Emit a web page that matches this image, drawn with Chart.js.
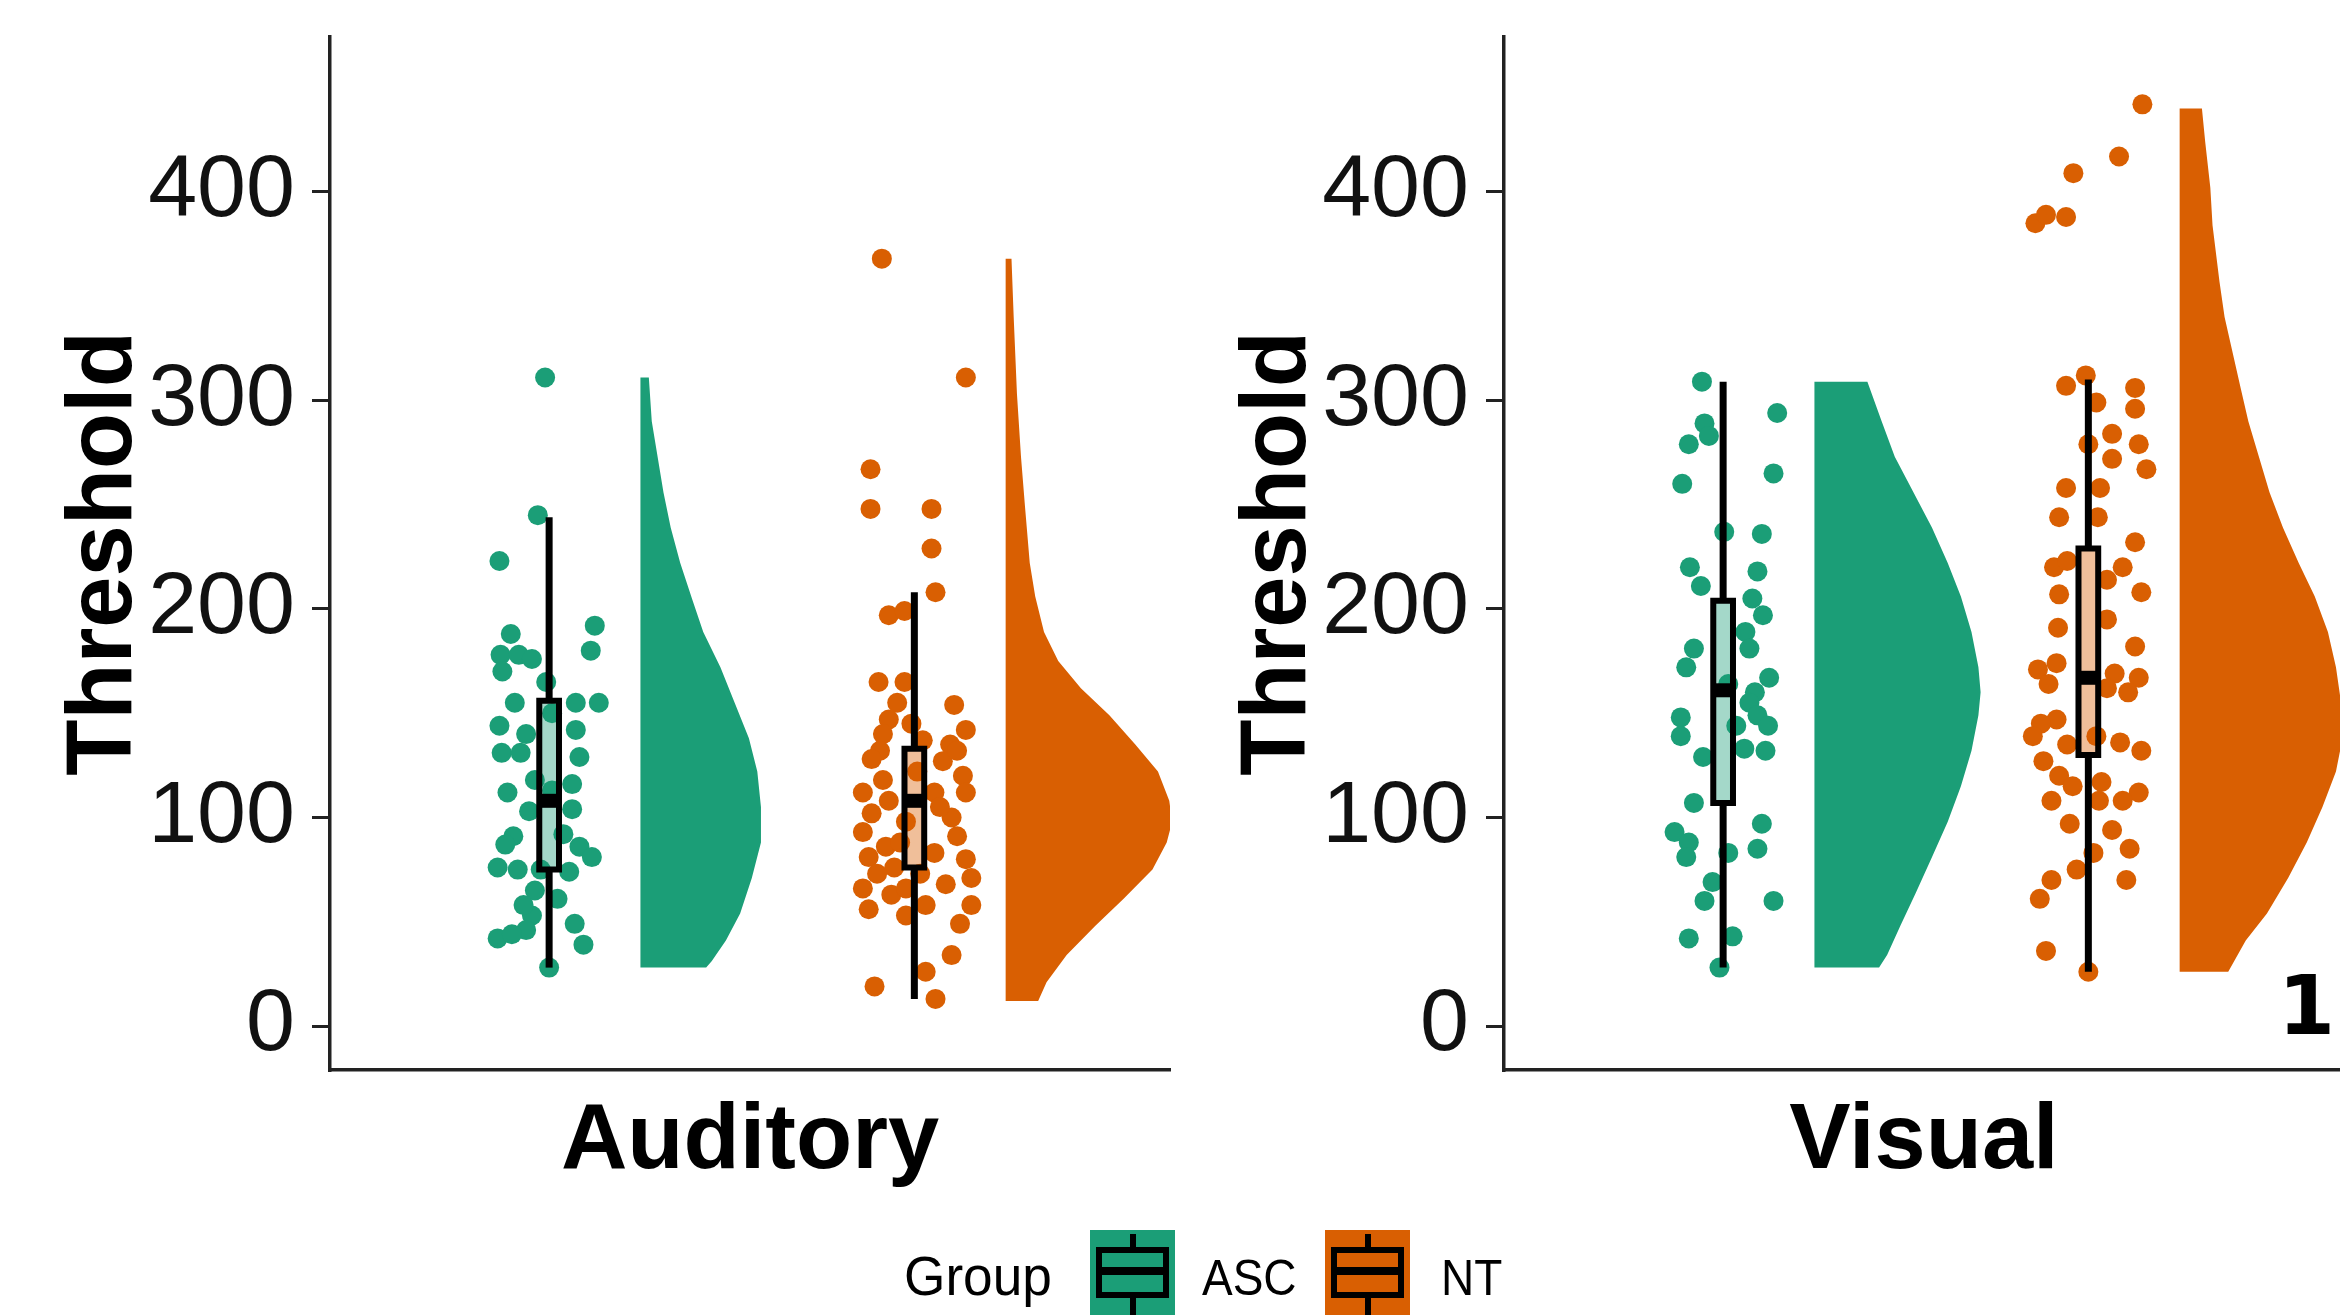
<!DOCTYPE html>
<html>
<head>
<meta charset="utf-8">
<title>Threshold by group</title>
<script src="https://cdn.jsdelivr.net/npm/chart.js@4.4.1/dist/chart.umd.min.js"></script>
<style>
  html, body { margin: 0; padding: 0; background: #fff; overflow: hidden; }
  body { width: 2340px; height: 1315px; position: relative; font-family: "Liberation Sans", Arial, sans-serif; }
  .panel { position: absolute; top: 0; }
  #audCanvas { left: 0; }
  #visCanvas { left: 1174px; }
  .txt { position: absolute; line-height: 1; color: #000; white-space: nowrap; transform-origin: 0 0; }
  .key { position: absolute; top: 1230px; width: 85px; height: 100px; }
  .key .whisk { position: absolute; left: 40px; width: 6px; top: 4px; bottom: 0; background: #000; }
  .key .box { position: absolute; left: 6px; top: 17px; width: 73px; height: 51px; box-sizing: border-box; border: 6px solid #000; background: inherit; }
  .key .med { position: absolute; left: 6px; top: 37px; width: 73px; height: 8px; background: #000; }
</style>
</head>
<body>
<canvas id="audCanvas" class="panel" width="1180" height="1315"></canvas>
<canvas id="visCanvas" class="panel" width="1180" height="1315"></canvas>

<div class="txt" style="left:2278px; top:958px; font: bold 82px 'DejaVu Sans';">1</div>

<div class="txt" style="left:904px; top:1248px; font-size:56px; transform:scaleX(0.95);">Group</div>
<div class="key" style="left:1090px; background:#1b9e77;"><div class="whisk"></div><div class="box"></div><div class="med"></div></div>
<div class="txt" style="left:1202px; top:1253px; font-size:50px; transform:scaleX(0.92);">ASC</div>
<div class="key" style="left:1325px; background:#d95f02;"><div class="whisk"></div><div class="box"></div><div class="med"></div></div>
<div class="txt" style="left:1441px; top:1253px; font-size:50px; transform:scaleX(0.92);">NT</div>

<script>
// Axis setup
const yTicks = [0, 100, 200, 300, 400];
const groupNames = ['ASC', 'NT'];
const groupX = [1, 2];
const lineColors = ['#1b9e77', '#d95f02'];
const boxFills = ['rgba(27,158,119,0.4)', 'rgba(217,95,2,0.4)'];
const violinNudge = 0.25;

// Auditory - ASC
const audAscVals = [311, 245, 223, 192, 188, 180, 178, 178, 176, 170, 165, 155, 155, 155, 144, 142, 140, 131, 131, 129,
  118, 116, 112, 113, 103, 104, 91, 87, 86, 81, 76, 75, 74, 65, 61, 53, 49, 46, 42, 44, 39, 28, 150, 75, 92, 58];
const audAscJitter = [-0.011, -0.031, -0.136, 0.125, -0.105, 0.114, -0.133, -0.083, -0.047, -0.128, -0.008, -0.094, 0.073, 0.136,
  -0.136, 0.073, -0.063, -0.130, -0.078, 0.083, -0.039, 0.063, -0.114, 0.008, -0.055, 0.063, -0.098, -0.120, 0.083, 0.117,
  -0.141, -0.086, 0.055, -0.039, 0.023, -0.047, 0.070, -0.063, -0.141, -0.102, 0.094, 0.0, 0.008, -0.023, 0.039, -0.070];
const audAscBox = [28, 75, 108, 156, 244]; // lower whisker, q1, median, q3, upper whisker
const audAscViolinY = [311, 290, 273, 256, 239, 222, 205, 189, 172, 155, 138, 122, 105, 88, 71, 54, 41, 31, 28];
const audAscViolinW = [0.023, 0.031, 0.047, 0.063, 0.083, 0.109, 0.141, 0.172, 0.219, 0.258, 0.297, 0.320, 0.330, 0.330,
  0.305, 0.273, 0.234, 0.195, 0.180];

// Auditory - NT
const audNtVals = [368, 311, 267, 248, 248, 229, 208, 197, 199, 165, 165, 155, 154, 147, 140, 142, 137, 135, 132, 127,
  118, 120, 112, 108, 112, 112, 102, 100, 98, 93, 91, 86, 81, 83, 80, 76, 71, 66, 68, 63, 66, 56, 58, 53, 58, 49, 34, 26,
  19, 13, 122, 105, 88, 73, 73, 132, 128, 145];
const audNtJitter = [-0.089, 0.141, -0.120, -0.120, 0.047, 0.047, 0.058, -0.070, -0.027, -0.098, -0.027, -0.047, 0.109,
  -0.070, -0.086, 0.141, 0.023, 0.098, -0.094, 0.078, -0.086, 0.133, -0.141, -0.070, 0.055, 0.141, -0.117, 0.102, -0.023,
  -0.141, 0.117, -0.078, -0.125, 0.055, 0.141, -0.055, 0.156, -0.141, 0.086, -0.063, -0.023, -0.125, 0.031, -0.023, 0.156,
  0.125, 0.102, 0.031, -0.109, 0.058, 0.008, 0.070, -0.039, 0.016, -0.102, 0.117, -0.117, -0.008];
const audNtBox = [13, 76, 108, 133, 208];
const audNtViolinY = [368, 340, 303, 273, 249, 222, 206, 189, 175, 162, 149, 135, 122, 108, 98, 88, 75, 61, 48, 34, 21, 12];
const audNtViolinW = [0.016, 0.022, 0.031, 0.042, 0.053, 0.066, 0.081, 0.105, 0.144, 0.206, 0.284, 0.355, 0.417, 0.448,
  0.456, 0.441, 0.402, 0.323, 0.245, 0.167, 0.112, 0.089];

// Visual - ASC
const visAscVals = [309, 294, 289, 283, 279, 265, 260, 237, 236, 220, 218, 211, 205, 197, 189, 181, 181, 172, 167, 160,
  164, 155, 148, 149, 139, 144, 144, 133, 132, 129, 107, 97, 93, 88, 85, 83, 81, 69, 60, 60, 42, 43, 28];
const visAscJitter = [-0.058, 0.148, -0.051, -0.039, -0.094, 0.138, -0.112, 0.003, 0.106, -0.091, 0.094, -0.061, 0.080,
  0.109, 0.061, -0.080, 0.072, -0.101, 0.126, 0.087, 0.014, 0.072, -0.116, 0.094, -0.116, 0.123, 0.036, 0.058, 0.116,
  -0.055, -0.080, 0.106, -0.133, -0.094, 0.094, 0.014, -0.101, -0.029, -0.051, 0.138, -0.094, 0.026, -0.010];
const visAscBox = [28, 107, 161, 204, 309];
const visAscViolinY = [309, 290, 273, 256, 239, 222, 206, 189, 172, 160, 149, 132, 115, 98, 81, 64, 48, 34, 28];
const visAscViolinW = [0.145, 0.184, 0.220, 0.271, 0.322, 0.365, 0.401, 0.430, 0.449, 0.455, 0.449, 0.430, 0.401, 0.365,
  0.322, 0.278, 0.235, 0.199, 0.177];

// Visual - NT
const visNtVals = [442, 417, 409, 385, 389, 388, 312, 307, 306, 299, 296, 284, 279, 279, 272, 267, 258, 258, 244, 244,
  232, 220, 220, 223, 214, 208, 207, 195, 191, 182, 171, 174, 169, 167, 164, 162, 160, 147, 145, 139, 139, 135, 136, 132,
  127, 120, 115, 117, 112, 108, 108, 108, 97, 94, 85, 83, 75, 70, 70, 61, 36, 26];
const visNtJitter = [0.148, 0.084, -0.041, -0.145, -0.116, -0.061, -0.007, -0.061, 0.128, 0.022, 0.128, 0.065, 0.0, 0.138,
  0.065, 0.159, -0.061, 0.032, -0.080, 0.026, 0.128, 0.094, -0.094, -0.058, 0.051, 0.145, -0.080, 0.051, -0.083, 0.128,
  -0.138, -0.087, 0.072, 0.138, -0.109, 0.051, 0.109, -0.087, -0.130, -0.152, 0.022, -0.058, 0.087, 0.145, -0.123, -0.080,
  -0.043, 0.036, 0.138, 0.094, -0.101, 0.029, -0.051, 0.065, 0.113, 0.014, -0.032, -0.101, 0.104, -0.133, -0.116, 0.0];
const visNtBox = [26, 130, 167, 229, 310];
const visNtViolinY = [440, 424, 402, 384, 357, 340, 323, 306, 290, 273, 256, 239, 222, 206, 189, 172, 155, 138, 122, 105,
  88, 71, 54, 41, 26];
const visNtViolinW = [0.061, 0.070, 0.084, 0.090, 0.109, 0.123, 0.145, 0.167, 0.188, 0.217, 0.246, 0.283, 0.326, 0.370,
  0.406, 0.428, 0.442, 0.446, 0.428, 0.391, 0.348, 0.297, 0.239, 0.181, 0.133];

const fontFamily = "'Liberation Sans', Arial, sans-serif";

// Datasets for one group: half violin, jittered points, box plot
function groupDatasets(g, vals, jitter, box, vy, vw) {
    const cx = groupX[g];
    const hw = 0.027;
    const base = cx + violinNudge;
    const violin = [{ x: base, y: vy[0] }]
        .concat(vy.map((v, i) => ({ x: base + vw[i], y: v })))
        .concat([{ x: base, y: vy[vy.length - 1] }]);
    const line = { showLine: true, pointRadius: 0, borderColor: '#000', fill: false };
    return [
        Object.assign({}, line, { label: groupNames[g] + ' median', order: 0, borderWidth: 14, borderCapStyle: 'butt',
            data: [{ x: cx - hw, y: box[2] }, { x: cx + hw, y: box[2] }] }),
        Object.assign({}, line, { label: groupNames[g] + ' box', order: 1, borderWidth: 6, borderCapStyle: 'square',
            borderJoinStyle: 'miter', fill: 'shape', backgroundColor: boxFills[g],
            data: [{ x: cx - hw, y: box[1] }, { x: cx - hw, y: box[3] }, { x: cx + hw, y: box[3] },
                   { x: cx + hw, y: box[1] }, { x: cx - hw, y: box[1] }] }),
        Object.assign({}, line, { label: groupNames[g] + ' upper', order: 2, borderWidth: 7,
            data: [{ x: cx, y: box[3] }, { x: cx, y: box[4] }] }),
        Object.assign({}, line, { label: groupNames[g] + ' lower', order: 2, borderWidth: 7,
            data: [{ x: cx, y: box[0] }, { x: cx, y: box[1] }] }),
        { label: groupNames[g], order: 3, showLine: false, pointRadius: 10, pointBorderWidth: 0, borderWidth: 0,
          pointBackgroundColor: lineColors[g], backgroundColor: lineColors[g],
          data: vals.map((v, i) => ({ x: cx + jitter[i], y: v })) },
        { label: groupNames[g] + ' density', order: 4, showLine: true, pointRadius: 0, borderWidth: 0, tension: 0,
          fill: 'shape', backgroundColor: lineColors[g], borderColor: lineColors[g], data: violin }
    ];
}

function makePanel(canvasId, title, asc, nt) {
    const datasets = groupDatasets(0, ...asc).concat(groupDatasets(1, ...nt));
    return new Chart(document.getElementById(canvasId), {
        type: 'scatter',
        data: { datasets: datasets },
        options: {
            responsive: false,
            animation: false,
            events: [],
            layout: { padding: { top: 37, right: 6, left: 0, bottom: 0 } },
            plugins: { legend: { display: false }, tooltip: { enabled: false } },
            scales: {
                x: {
                    type: 'linear', min: 0.4, max: 2.7,
                    ticks: { display: false },
                    grid: { display: false },
                    border: { display: true, color: '#222', width: 3.5 },
                    title: { display: true, text: title, color: '#000',
                        font: { family: fontFamily, size: 92, weight: 'bold', lineHeight: 1 },
                        padding: { top: 0, bottom: 126 } },
                    afterFit: function(s) { s.height = 245; s.paddingLeft = 0; s.paddingRight = 0; }
                },
                y: {
                    type: 'linear', min: -21.1, max: 474.3,
                    afterBuildTicks: function(s) { s.ticks = yTicks.map(v => ({ value: v })); },
                    ticks: { color: '#111', padding: 17, font: { family: fontFamily, size: 88 } },
                    grid: { drawOnChartArea: false, drawTicks: true, tickLength: 18, color: '#222', lineWidth: 3 },
                    border: { display: true, color: '#222', width: 3.5 },
                    title: { display: true, text: 'Threshold', color: '#000',
                        font: { family: fontFamily, size: 92, weight: 'bold', lineHeight: 1 },
                        padding: { top: 60, bottom: 0 } },
                    afterFit: function(s) { s.width = 330; s.paddingTop = 0; s.paddingBottom = 0; }
                }
            }
        }
    });
}

makePanel('audCanvas', 'Auditory',
    [audAscVals, audAscJitter, audAscBox, audAscViolinY, audAscViolinW],
    [audNtVals, audNtJitter, audNtBox, audNtViolinY, audNtViolinW]);
makePanel('visCanvas', 'Visual',
    [visAscVals, visAscJitter, visAscBox, visAscViolinY, visAscViolinW],
    [visNtVals, visNtJitter, visNtBox, visNtViolinY, visNtViolinW]);
</script>
</body>
</html>
